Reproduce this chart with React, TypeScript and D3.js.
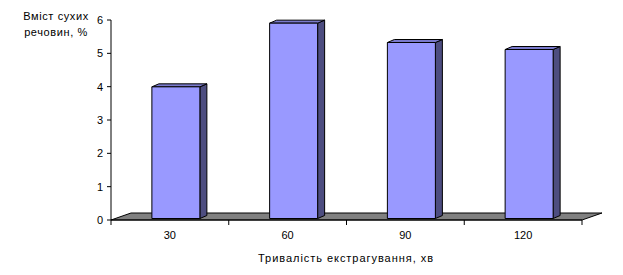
import React from "react";
import * as d3 from "d3";

const categories = ["30", "60", "90", "120"];
const values = [3.95, 5.86, 5.28, 5.07];
const yTicks = [0, 1, 2, 3, 4, 5, 6];
const yTitle = ["Вміст сухих", "речовин, %"];
const xTitle = "Тривалість екстрагування, хв";

export default function App() {
  const W = 623, H = 275;
  const x0 = 111, x1 = 582;
  const y = d3.scaleLinear().domain([0, 6]).range([220, 20]);
  const x = d3.scaleBand().domain(categories).range([x0, x1]);
  const floorD = { dx: 20, dy: -7 };
  const front = { dx: 6, dy: -1.5 };
  const back = { dx: 13, dy: -4.5 };
  const barW = 48;
  const font = "'Liberation Sans', Arial, sans-serif";
  const y0 = y(0);

  return (
    <svg width={W} height={H} style={{ position: "absolute", left: 0, top: 0 }}>
      <rect width={W} height={H} fill="#fff" />
      {/* floor */}
      <polygon
        points={`${x0},${y0} ${x1},${y0} ${x1 + floorD.dx},${y0 + floorD.dy} ${x0 + floorD.dx},${y0 + floorD.dy}`}
        fill="#808080"
        stroke="#000"
        strokeWidth={1}
      />
      {/* bars */}
      {categories.map((c, i) => {
        const cx = (x(c) as number) + x.bandwidth() / 2;
        const fl = cx - barW / 2 + front.dx;
        const fr = fl + barW;
        const fb = y0 + front.dy;
        const ft = y(values[i]) + front.dy;
        const ddx = back.dx - front.dx;
        const ddy = back.dy - front.dy;
        return (
          <g key={c} stroke="#000" strokeWidth={1} strokeLinejoin="round">
            <polygon
              points={`${fr},${fb} ${fr + ddx},${fb + ddy} ${fr + ddx},${ft + ddy} ${fr},${ft}`}
              fill="#4d4d80"
            />
            <polygon
              points={`${fl},${ft} ${fr},${ft} ${fr + ddx},${ft + ddy} ${fl + ddx},${ft + ddy}`}
              fill="#7a7acc"
            />
            <rect x={fl} y={ft} width={barW} height={fb - ft} fill="#9999ff" />
          </g>
        );
      })}
      {/* y axis */}
      <line x1={x0} x2={x0} y1={y(6)} y2={y0} stroke="#000" />
      {yTicks.map((t) => (
        <g key={t}>
          <line x1={x0 - 4} x2={x0} y1={y(t)} y2={y(t)} stroke="#000" />
          <text x={x0 - 8} y={y(t) + 4} fontSize={11} fontFamily={font} textAnchor="end">
            {t}
          </text>
        </g>
      ))}
      {/* x axis */}
      <line x1={x0} x2={x1} y1={y0} y2={y0} stroke="#000" />
      {[x0, ...categories.map((c) => (x(c) as number) + x.bandwidth())].map((t, i) => (
        <line key={i} x1={t} x2={t} y1={y0} y2={y0 + 5} stroke="#000" />
      ))}
      {categories.map((c) => (
        <text
          key={c}
          x={(x(c) as number) + x.bandwidth() / 2}
          y={239}
          fontSize={11}
          fontFamily={font}
          textAnchor="middle"
        >
          {c}
        </text>
      ))}
      <text x={258} y={262} fontSize={11} fontFamily={font} textLength={175} lengthAdjust="spacing">
        {xTitle}
      </text>
      {yTitle.map((s, i) => (
        <text key={i} x={56} y={20 + i * 16} fontSize={11} fontFamily={font} textAnchor="middle" letterSpacing={0.6}>
          {s}
        </text>
      ))}
    </svg>
  );
}
